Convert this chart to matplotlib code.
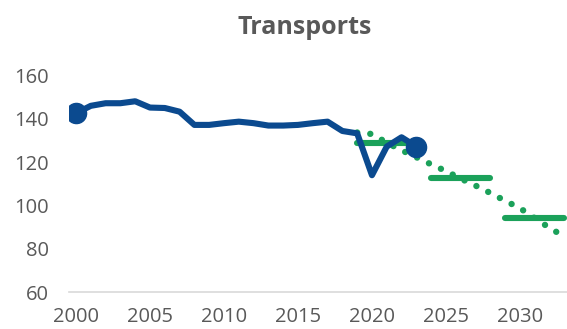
import numpy as np
import matplotlib
matplotlib.use("Agg")
import matplotlib.pyplot as plt

# Historical emissions, transport sector
hist_years = list(range(2000, 2024))
hist_values = [142.6, 146.0, 147.2, 147.2, 148.1, 145.2, 145.0, 143.3, 137.2, 137.2,
               138.0, 138.7, 138.0, 136.9, 136.9, 137.2, 138.0, 138.7, 134.4, 133.3,
               114.0, 127.2, 131.5, 127.2]

# Target trajectory (annual) and period averages
traj_years = list(range(2019, 2034))
traj_values = [133.7, 133.0, 129.0, 125.5, 122.3, 119.0, 115.9, 112.4, 109.2, 105.8,
               102.2, 98.8, 94.2, 89.7, 85.7]

period_starts = [2019, 2024, 2029]
period_ends = [2023, 2028, 2033]
period_values = [128.7, 112.6, 94.1]

tick_years = [2000, 2005, 2010, 2015, 2020, 2025, 2030]
y_ticks = [60, 80, 100, 120, 140, 160]

blue = "#0B4A8F"
green = "#1BA15A"
grey = "#595959"

plt.rcParams['font.family'] = ['Open Sans', 'DejaVu Sans']

fig = plt.figure(figsize=(5.67, 3.29), dpi=100)
ax = fig.add_axes([68.6 / 567, 0.1116, 1 - 68.6 / 567, 0.659])

# dotted annual trajectory
ax.plot(traj_years, traj_values, color=green, lw=4.6, linestyle=(0, (0.01, 2.05)),
        dash_capstyle='round', zorder=2)

# period averages
for x0, x1, v in zip(period_starts, period_ends, period_values):
    ax.plot([x0, x1], [v, v], color=green, lw=4.4, solid_capstyle='round', zorder=2)

# historical line with end markers
ax.plot(hist_years, hist_values, color=blue, lw=4.4, solid_joinstyle='round',
        solid_capstyle='round', zorder=3)
ax.plot([hist_years[0], hist_years[-1]], [hist_values[0], hist_values[-1]],
        linestyle='none', marker='o', ms=14.5, color=blue, zorder=4)

ax.set_xlim(1999.5, 2033.18)
ax.set_ylim(60, 160)
ax.set_xticks(tick_years)
ax.set_yticks(y_ticks)
ax.tick_params(axis='both', length=0, labelsize=14.5, labelcolor=grey)
ax.tick_params(axis='y', pad=14)
ax.tick_params(axis='x', pad=10.5)

for side in ['top', 'right', 'left']:
    ax.spines[side].set_visible(False)
ax.spines['bottom'].set_color('#D9D9D9')
ax.spines['bottom'].set_linewidth(1.2)

fig.text(305 / 567, 1 - 27 / 329, "Transports", ha='center', va='center',
         fontsize=18, fontweight='bold', color=grey)

fig.savefig("out.png", dpi=100)
